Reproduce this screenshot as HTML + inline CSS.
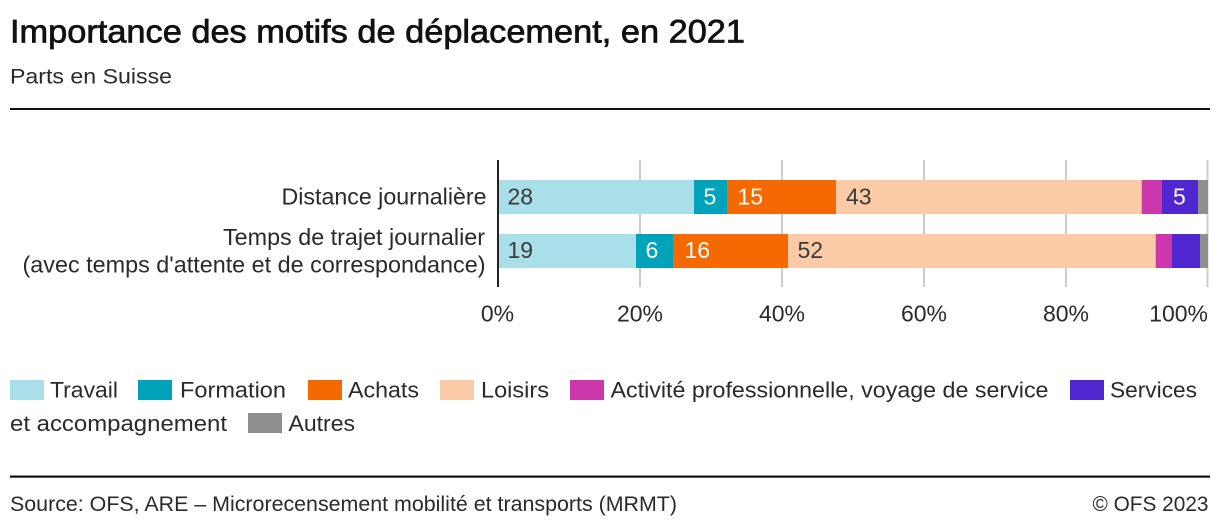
<!DOCTYPE html>
<html>
<head>
<meta charset="utf-8">
<style>
  html, body { margin: 0; padding: 0; background: #ffffff; }
  body { width: 1220px; height: 530px; overflow: hidden; }
  svg { display: block; font-family: "Liberation Sans", "DejaVu Sans", sans-serif; }
  .t { fill: #2a2a2a; }
</style>
</head>
<body>
<svg width="1220" height="530" viewBox="0 0 1220 530" xmlns="http://www.w3.org/2000/svg">
  <rect x="0" y="0" width="1220" height="530" fill="#ffffff"/>

  <!-- Title -->
  <text x="10" y="42.5" font-size="32" fill="#111" stroke="#111" stroke-width="0.7" textLength="735" lengthAdjust="spacingAndGlyphs">Importance des motifs de déplacement, en 2021</text>
  <text x="10" y="83.3" font-size="21" class="t" textLength="162" lengthAdjust="spacingAndGlyphs">Parts en Suisse</text>
  <rect x="10" y="108" width="1200" height="2" fill="#111"/>

  <!-- Gridlines -->
  <g stroke="#cccccc" stroke-width="2">
    <line x1="640" y1="160" x2="640" y2="287"/>
    <line x1="782" y1="160" x2="782" y2="287"/>
    <line x1="924" y1="160" x2="924" y2="287"/>
    <line x1="1066" y1="160" x2="1066" y2="287"/>
    <line x1="1207.5" y1="160" x2="1207.5" y2="287"/>
  </g>

  <!-- Bars: Distance journalière -->
  <rect x="498" y="180" width="196" height="34" fill="#a8dfe8"/>
  <rect x="694" y="180" width="33.7" height="34" fill="#00a3ba"/>
  <rect x="727.7" y="180" width="108.3" height="34" fill="#f56a00"/>
  <rect x="836" y="180" width="305.7" height="34" fill="#fbcba7"/>
  <rect x="1141.7" y="180" width="20.3" height="34" fill="#cc37ab"/>
  <rect x="1162" y="180" width="36" height="34" fill="#4f26cf"/>
  <rect x="1198" y="180" width="10" height="34" fill="#8e8e8e"/>

  <!-- Bars: Temps de trajet -->
  <rect x="498" y="234" width="138" height="34" fill="#a8dfe8"/>
  <rect x="636" y="234" width="37.7" height="34" fill="#00a3ba"/>
  <rect x="673.7" y="234" width="114.3" height="34" fill="#f56a00"/>
  <rect x="788" y="234" width="367.7" height="34" fill="#fbcba7"/>
  <rect x="1155.7" y="234" width="16.3" height="34" fill="#cc37ab"/>
  <rect x="1172" y="234" width="28" height="34" fill="#4f26cf"/>
  <rect x="1200" y="234" width="8" height="34" fill="#8e8e8e"/>

  <!-- Axis line -->
  <line x1="498" y1="160" x2="498" y2="287" stroke="#222" stroke-width="2"/>

  <!-- Bar labels -->
  <g font-size="23">
    <text x="507.5" y="204.5" fill="#3a3a3a">28</text>
    <text x="703.5" y="204.5" fill="#ffffff">5</text>
    <text x="737.5" y="204.5" fill="#ffffff">15</text>
    <text x="846" y="204.5" fill="#3a3a3a">43</text>
    <text x="1173" y="204.5" fill="#ffffff">5</text>

    <text x="507.5" y="258" fill="#3a3a3a">19</text>
    <text x="645.5" y="258" fill="#ffffff">6</text>
    <text x="684.5" y="258" fill="#ffffff">16</text>
    <text x="797.5" y="258" fill="#3a3a3a">52</text>
  </g>

  <!-- Category labels -->
  <g font-size="23" class="t" text-anchor="end">
    <text x="486.5" y="204.5" textLength="205" lengthAdjust="spacingAndGlyphs">Distance journalière</text>
    <text x="485" y="245" textLength="262" lengthAdjust="spacingAndGlyphs">Temps de trajet journalier</text>
    <text x="485.5" y="272.5" textLength="463" lengthAdjust="spacingAndGlyphs">(avec temps d'attente et de correspondance)</text>
  </g>

  <!-- Tick labels -->
  <g font-size="23" class="t" text-anchor="middle">
    <text x="497.5" y="321.5">0%</text>
    <text x="640" y="321.5">20%</text>
    <text x="782" y="321.5">40%</text>
    <text x="924" y="321.5">60%</text>
    <text x="1066" y="321.5">80%</text>
    <text x="1208" y="321.5" text-anchor="end">100%</text>
  </g>

  <!-- Legend -->
  <rect x="10" y="380" width="34" height="20" fill="#a8dfe8"/>
  <rect x="138" y="380" width="34" height="20" fill="#00a3ba"/>
  <rect x="308" y="380" width="34" height="20" fill="#f56a00"/>
  <rect x="440" y="380" width="34" height="20" fill="#fbcba7"/>
  <rect x="570" y="380" width="34" height="20" fill="#cc37ab"/>
  <rect x="1070" y="380" width="34" height="20" fill="#4f26cf"/>
  <rect x="248" y="413" width="34" height="20" fill="#8e8e8e"/>
  <g font-size="22" class="t">
    <text x="50" y="397.5" textLength="68" lengthAdjust="spacingAndGlyphs">Travail</text>
    <text x="180" y="397.5" textLength="106" lengthAdjust="spacingAndGlyphs">Formation</text>
    <text x="348" y="397.5" textLength="71" lengthAdjust="spacingAndGlyphs">Achats</text>
    <text x="481" y="397.5" textLength="68" lengthAdjust="spacingAndGlyphs">Loisirs</text>
    <text x="610.5" y="397.5" textLength="438" lengthAdjust="spacingAndGlyphs">Activité professionnelle, voyage de service</text>
    <text x="1110" y="397.5" textLength="87" lengthAdjust="spacingAndGlyphs">Services</text>
    <text x="10" y="431" textLength="217" lengthAdjust="spacingAndGlyphs">et accompagnement</text>
    <text x="288.5" y="431" textLength="66.5" lengthAdjust="spacingAndGlyphs">Autres</text>
  </g>

  <!-- Footer -->
  <rect x="10" y="475.5" width="1200" height="2.2" fill="#111"/>
  <g font-size="21.5" class="t">
    <text x="10" y="511" textLength="667" lengthAdjust="spacingAndGlyphs">Source: OFS, ARE – Microrecensement mobilité et transports (MRMT)</text>
    <text x="1208.5" y="511" text-anchor="end" textLength="116" lengthAdjust="spacingAndGlyphs">© OFS 2023</text>
  </g>
</svg>
</body>
</html>
